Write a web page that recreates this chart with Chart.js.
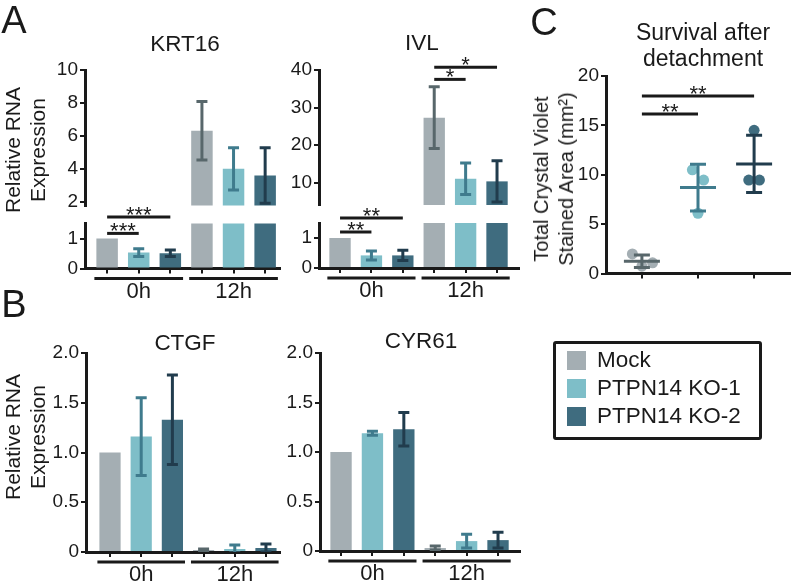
<!DOCTYPE html>
<html>
<head>
<meta charset="utf-8">
<script src="https://cdn.jsdelivr.net/npm/chart.js@4.4.0/dist/chart.umd.min.js"></script>
<style>
  body { margin: 0; background: #fff; }
  #fig { position: relative; width: 796px; height: 588px; overflow: hidden;
         font-family: 'Liberation Sans', Arial, sans-serif; color: #1a1a1a; }
  #fig canvas { position: absolute; left: 0; top: 0; }
  .lbl { position: absolute; transform: translate(-50%, -50%); white-space: nowrap;
         line-height: 1; text-align: center; }
  .ytitle { position: absolute; transform: translate(-50%, -50%) rotate(-90deg);
            white-space: nowrap; text-align: center; font-size: 21px; line-height: 25px; }
  #legend { position: absolute; left: 553px; top: 341px; width: 192px; height: 91px;
            border: 3px solid #1a1a1a; border-radius: 3px; padding: 2px 0 0 11px; box-sizing: content-box; }
  #legend .row { height: 28px; display: flex; align-items: center; font-size: 22.5px; }
  #legend .sw { width: 19px; height: 19px; margin-right: 11px; }
</style>
</head>
<body>
<div id="fig">
  <canvas id="krt16Top" width="796" height="588"></canvas>
  <canvas id="krt16Bot" width="796" height="588"></canvas>
  <canvas id="ivlTop" width="796" height="588"></canvas>
  <canvas id="ivlBot" width="796" height="588"></canvas>
  <canvas id="ctgf" width="796" height="588"></canvas>
  <canvas id="cyr61" width="796" height="588"></canvas>
  <canvas id="survival" width="796" height="588"></canvas>

  <div class="lbl" style="left:14px;top:20px;font-size:38px;">A</div>
  <div class="lbl" style="left:14px;top:304px;font-size:38px;">B</div>
  <div class="lbl" style="left:544px;top:22px;font-size:38px;">C</div>

  <div class="lbl" style="left:185px;top:44px;font-size:22.5px;">KRT16</div>
  <div class="lbl" style="left:422px;top:43px;font-size:22.5px;">IVL</div>
  <div class="lbl" style="left:185px;top:343px;font-size:22.5px;">CTGF</div>
  <div class="lbl" style="left:421px;top:341px;font-size:22.5px;">CYR61</div>
  <div class="lbl" style="left:703px;top:45px;font-size:23px;line-height:26px;">Survival after<br>detachment</div>

  <div class="ytitle" style="left:25px;top:150px;">Relative RNA<br>Expression</div>
  <div class="ytitle" style="left:25px;top:437px;">Relative RNA<br>Expression</div>
  <div class="ytitle" style="left:554px;top:179px;font-size:20px;">Total Crystal Violet<br>Stained Area (mm²)</div>

  <div id="legend"></div>
</div>
<script>
const conditions = ['Mock', 'PTPN14 KO-1', 'PTPN14 KO-2'];
const timepoints = ['0h', '12h'];
const barColors = ['#A4AEB3', '#7EBEC8', '#3F6C7F'];
const errColors = ['#58676B', '#3F7B8D', '#213C4D'];

// bars go 0h Mock, 0h KO-1, 0h KO-2, 12h Mock, 12h KO-1, 12h KO-2
const krt16Mean = [1.0, 0.53, 0.51, 6.33, 4.02, 3.62];
const krt16Err  = [0, 0.13, 0.11, 1.77, 1.28, 1.68];
const ivlMean   = [1.0, 0.42, 0.42, 27.3, 11.0, 10.3];
const ivlErr    = [0, 0.15, 0.17, 8.25, 4.2, 5.5];
const ctgfMean  = [1.0, 1.16, 1.33, 0.02, 0.03, 0.04];
const ctgfErr   = [0, 0.39, 0.45, 0.01, 0.04, 0.04];
const cyr61Mean = [1.0, 1.19, 1.23, 0.03, 0.10, 0.11];
const cyr61Err  = [0, 0.02, 0.17, 0.02, 0.07, 0.08];

// significance brackets: bar indices and bracket level in axis units
const krt16Sig   = [{from: 0, to: 2, level: 1.72, text: '***'}, {from: 0, to: 1, level: 1.17, text: '***'}];
const ivlSig0h   = [{from: 0, to: 2, level: 1.67, text: '**'}, {from: 0, to: 1, level: 1.2, text: '**'}];
const ivlSig12h  = [{from: 3, to: 5, level: 40.75, text: '*'}, {from: 3, to: 4, level: 37.5, text: '*'}];

// panel C: replicates per condition, with horizontal jitter (category units)
const survivalPoints = [[1.98, 0.74, 1.08], [10.5, 9.46, 6.1], [14.5, 9.46, 9.46]];
const survivalJitter = [[-0.17, 0, 0.19], [-0.1, 0.1, 0], [0, -0.095, 0.095]];
const survivalMean = [1.25, 8.7, 11.1];
const survivalSd = [0.63, 2.37, 2.9];
const survivalSig = [{from: 0, to: 2, level: 17.97, text: '**'}, {from: 0, to: 1, level: 16.15, text: '**'}];

const INK = '#1a1a1a';
const FONT = "'Liberation Sans', Arial, sans-serif";
const W = 796, H = 588, Y_W = 40, X_H = 8;

Chart.defaults.font.family = FONT;
Chart.defaults.font.size = 19;
Chart.defaults.color = INK;
Chart.defaults.animation = false;

function yAxis(min, max, step, fmt) {
    return {
        min: min, max: max,
        afterFit(s) { s.width = Y_W; },
        ticks: { stepSize: step, includeBounds: false, padding: 2, color: INK, callback: fmt },
        grid: { drawOnChartArea: false, tickLength: 5, lineWidth: 2, color: INK },
        border: { color: INK, width: 3 }
    };
}

function xAxis(min, max, show) {
    return {
        type: 'linear', min: min, max: max, display: show, offset: false,
        afterFit(s) { s.height = X_H; },
        ticks: { display: false, stepSize: 1, includeBounds: false },
        grid: { offset: false, drawOnChartArea: false, tickLength: 5, lineWidth: 2, color: INK },
        border: { color: INK, width: 3 }
    };
}

function padFor(area, showX) {
    return { left: area.l - Y_W, top: area.t, right: W - area.r, bottom: H - area.b - (showX ? X_H : 0) };
}

function errorBars(mean, err) {
    return {
        id: 'errorBars',
        afterDatasetsDraw(chart) {
            const { ctx, chartArea: a } = chart;
            const ys = chart.scales.y;
            const bars = chart.getDatasetMeta(0).data;
            ctx.save();
            ctx.beginPath();
            ctx.rect(a.left, a.top - 3, a.right - a.left, a.bottom - a.top + 3);
            ctx.clip();
            ctx.lineWidth = 3;
            bars.forEach((bar, i) => {
                if (!err[i]) return;
                const hi = ys.getPixelForValue(mean[i] + err[i]);
                const lo = ys.getPixelForValue(mean[i] - err[i]);
                ctx.strokeStyle = errColors[i % 3];
                ctx.beginPath();
                ctx.moveTo(bar.x, hi); ctx.lineTo(bar.x, lo);
                ctx.moveTo(bar.x - 5.5, hi); ctx.lineTo(bar.x + 5.5, hi);
                ctx.moveTo(bar.x - 5.5, lo); ctx.lineTo(bar.x + 5.5, lo);
                ctx.stroke();
            });
            ctx.restore();
        }
    };
}

function groupLines() {
    return {
        id: 'groupLines',
        afterDraw(chart) {
            const { ctx, chartArea: a } = chart;
            const bars = chart.getDatasetMeta(0).data;
            const y = a.bottom + 10;
            ctx.save();
            ctx.strokeStyle = INK; ctx.fillStyle = INK; ctx.lineWidth = 3;
            ctx.font = '22px ' + FONT;
            ctx.textAlign = 'center';
            timepoints.forEach((t, g) => {
                const first = bars[g * 3], last = bars[g * 3 + 2];
                const x0 = first.x - first.width / 2 - 2;
                const x1 = last.x + last.width / 2 + 2;
                ctx.beginPath(); ctx.moveTo(x0, y); ctx.lineTo(x1, y); ctx.stroke();
                ctx.fillText(t, (x0 + x1) / 2, y + 19);
            });
            ctx.restore();
        }
    };
}

function brackets(list, xOf) {
    return {
        id: 'brackets',
        afterDraw(chart) {
            const { ctx } = chart;
            const ys = chart.scales.y;
            ctx.save();
            ctx.strokeStyle = INK; ctx.fillStyle = INK; ctx.lineWidth = 3;
            ctx.font = '22px ' + FONT;
            ctx.textAlign = 'center';
            list.forEach(b => {
                const y = ys.getPixelForValue(b.level);
                const x0 = xOf(chart, b.from), x1 = xOf(chart, b.to);
                ctx.beginPath(); ctx.moveTo(x0, y); ctx.lineTo(x1, y); ctx.stroke();
                ctx.fillText(b.text, (x0 + x1) / 2, y + 5);
            });
            ctx.restore();
        }
    };
}

const barX = (chart, i) => chart.getDatasetMeta(0).data[i].x;

function barChart(id, area, mean, err, xRange, yOpts, showX, extra) {
    return new Chart(document.getElementById(id), {
        type: 'bar',
        data: {
            datasets: [{
                data: mean.map((v, i) => ({ x: i, y: v })),
                backgroundColor: mean.map((v, i) => barColors[i % 3]),
                barPercentage: 0.68,
                categoryPercentage: 1,
                clip: 0
            }]
        },
        options: {
            responsive: false,
            events: [],
            layout: { padding: padFor(area, showX) },
            plugins: { legend: { display: false }, tooltip: { enabled: false } },
            scales: { x: xAxis(xRange[0], xRange[1], showX), y: yOpts }
        },
        plugins: [errorBars(mean, err)].concat(extra || [])
    });
}

const intOnly = v => Number.isInteger(v) ? String(v) : '';
const oneDec = v => v === 0 ? '0' : v.toFixed(1);

// Panel A, KRT16 (broken axis: two stacked charts)
barChart('krt16Top', { l: 85, t: 70, r: 280, b: 213.5 }, krt16Mean, krt16Err, [-0.7, 5.47],
    yAxis(1.8, 10, 2), false);
barChart('krt16Bot', { l: 85, t: 223.5, r: 280, b: 268.5 }, krt16Mean, krt16Err, [-0.7, 5.47],
    yAxis(0, 1.5, 0.5, intOnly), true, [groupLines(), brackets(krt16Sig, barX)]);

// Panel A, IVL
barChart('ivlTop', { l: 319, t: 70, r: 519, b: 213 }, ivlMean, ivlErr, [-0.67, 5.7],
    yAxis(4, 40, 10), false, [brackets(ivlSig12h, barX)]);
barChart('ivlBot', { l: 319, t: 223, r: 519, b: 268 }, ivlMean, ivlErr, [-0.67, 5.7],
    yAxis(0, 1.5, 0.5, intOnly), true, [groupLines(), brackets(ivlSig0h, barX)]);

// Panel B
barChart('ctgf', { l: 86, t: 353, r: 280, b: 552 }, ctgfMean, ctgfErr, [-0.77, 5.45],
    yAxis(0, 2, 0.5, oneDec), true, [groupLines()]);
barChart('cyr61', { l: 320, t: 353, r: 520, b: 551 }, cyr61Mean, cyr61Err, [-0.67, 5.7],
    yAxis(0, 2, 0.5, oneDec), true, [groupLines()]);

// Panel C
const meanSd = {
    id: 'meanSd',
    afterDatasetsDraw(chart) {
        const { ctx } = chart;
        const xs = chart.scales.x, ys = chart.scales.y;
        ctx.save();
        ctx.lineWidth = 3;
        survivalMean.forEach((m, c) => {
            const x = xs.getPixelForValue(c + 1);
            const ym = ys.getPixelForValue(m);
            const hi = ys.getPixelForValue(m + survivalSd[c]);
            const lo = ys.getPixelForValue(m - survivalSd[c]);
            ctx.strokeStyle = errColors[c];
            ctx.beginPath();
            ctx.moveTo(x - 18, ym); ctx.lineTo(x + 18, ym);
            ctx.moveTo(x, hi); ctx.lineTo(x, lo);
            ctx.moveTo(x - 8, hi); ctx.lineTo(x + 8, hi);
            ctx.moveTo(x - 8, lo); ctx.lineTo(x + 8, lo);
            ctx.stroke();
        });
        ctx.restore();
    }
};

const survivalArea = { l: 606, t: 76, r: 790, b: 273.5 };
new Chart(document.getElementById('survival'), {
    type: 'scatter',
    data: {
        datasets: survivalPoints.map((pts, c) => ({
            label: conditions[c],
            data: pts.map((v, k) => ({ x: c + 1 + survivalJitter[c][k], y: v })),
            backgroundColor: barColors[c],
            borderWidth: 0,
            pointRadius: 5.5
        }))
    },
    options: {
        responsive: false,
        events: [],
        layout: { padding: padFor(survivalArea, true) },
        plugins: { legend: { display: false }, tooltip: { enabled: false } },
        scales: { x: xAxis(0.36, 3.64, true), y: yAxis(0, 20, 5) }
    },
    plugins: [meanSd, brackets(survivalSig, (chart, i) => chart.scales.x.getPixelForValue(i + 1))]
});

// shared legend
const legend = document.getElementById('legend');
conditions.forEach((name, c) => {
    const row = document.createElement('div');
    row.className = 'row';
    row.innerHTML = '<span class="sw" style="background:' + barColors[c] + '"></span>' + name;
    legend.appendChild(row);
});
</script>
</body>
</html>
